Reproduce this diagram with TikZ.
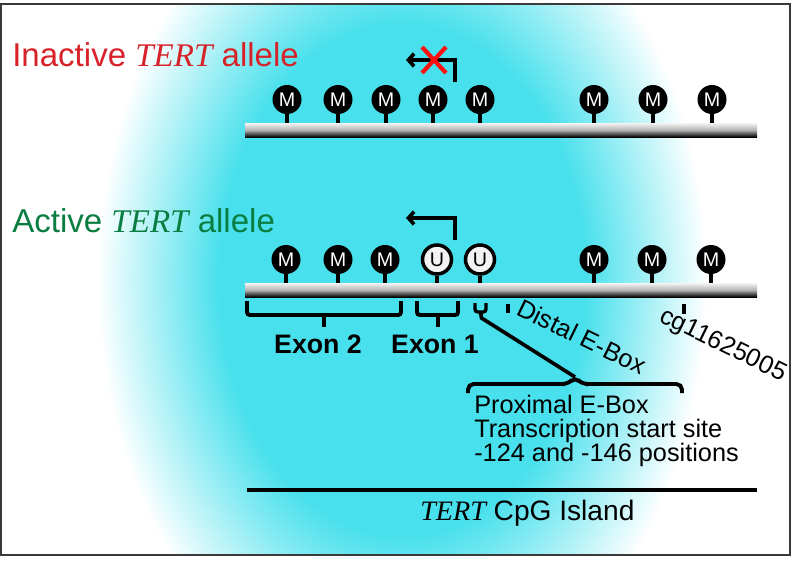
\documentclass[tikz,border=0pt]{standalone}
\usepackage{fontspec}
\setmainfont{Liberation Sans}
\newfontfamily\tertfont{Liberation Serif}
\usetikzlibrary{arrows.meta, positioning}
\definecolor{inactred}{HTML}{D7222A}
\definecolor{actgreen}{HTML}{0A7D41}
\definecolor{bgcyan}{HTML}{48E0EC}
\definecolor{framegray}{HTML}{3A3A3A}
\definecolor{blockred}{HTML}{FF1010}

\pgfdeclareradialshading{glow}{\pgfpoint{0bp}{0bp}}{color(0bp)=(bgcyan); color(15bp)=(bgcyan); color(25bp)=(white); color(50bp)=(white)}

\newdimen\px \px=0.025cm
\newcommand{\tert}{{\tertfont\itshape TERT}}

\begin{document}
\begin{tikzpicture}[
    x = 0.025cm, y = -0.025cm,
    every node/.style = {font=\fontsize{18}{17}\selectfont},
    meth/.style = {circle, fill=black, minimum size=29\px, inner sep=0pt,
                   text=white, font=\fontsize{14}{14}\selectfont},
    unmeth/.style = {circle, fill=gray!10, draw=black, line width=2.5pt,
                     minimum size=29\px, inner sep=0pt, font=\fontsize{14}{14}\selectfont},
    rod/.style = {rectangle, minimum width=512\px, minimum height=14\px, inner sep=0pt,
                  top color=gray!8, bottom color=black, middle color=gray!60},
    stem/.style = {line width=2.6pt},
    bracket/.style = {line width=2.8pt, rounded corners=2pt},
    tss/.style = {-{Straight Barb[length=4pt, width=9pt]}, line width=2.6pt},
    title/.style = {anchor=base west, inner sep=0pt, font=\fontsize{23.5}{23.5}\selectfont},
    exon/.style = {anchor=base, inner sep=0pt, font=\fontsize{19}{19}\selectfont\bfseries},
    slanted/.style = {anchor=base west, inner sep=0pt, rotate=-26}
  ]
    % Backdrop
    \useasboundingbox (0,0) rectangle (800,560);
    \fill[white] (1,4) rectangle (790,555);
    \begin{scope}
      \clip (1,4) rectangle (790,555);
      \shade[shading=glow] (402,280) ellipse [x radius=305, y radius=426];
    \end{scope}
    \draw[framegray, line width=1.5pt] (1,4) rectangle (790,555);

    % Titles
    \node[title, text=inactred] (inacttitle) at (12,66) {Inactive \tert{} allele};
    \node[title, text=actgreen] (acttitle) at (12,232) {Active \tert{} allele};

    % DNA rods
    \node[rod] (rod1) at (501,130) {};
    \node[rod] (rod2) at (501,290) {};

    % Inactive allele CpGs
    \node[meth] (i1) at (287,99.5) {M};
    \node[meth] (i2) at (338,99.5) {M};
    \node[meth] (i3) at (386,99.5) {M};
    \node[meth] (i4) at (433,99.5) {M};
    \node[meth] (i5) at (480,99.5) {M};
    \node[meth] (i6) at (594,99.5) {M};
    \node[meth] (i7) at (653,99.5) {M};
    \node[meth] (i8) at (712,99.5) {M};
    \draw[stem] (i1) -- (i1 |- rod1.north);
    \draw[stem] (i2) -- (i2 |- rod1.north);
    \draw[stem] (i3) -- (i3 |- rod1.north);
    \draw[stem] (i4) -- (i4 |- rod1.north);
    \draw[stem] (i5) -- (i5 |- rod1.north);
    \draw[stem] (i6) -- (i6 |- rod1.north);
    \draw[stem] (i7) -- (i7 |- rod1.north);
    \draw[stem] (i8) -- (i8 |- rod1.north);

    % Active allele CpGs
    \node[meth] (a1) at (286,259.5) {M};
    \node[meth] (a2) at (338,259.5) {M};
    \node[meth] (a3) at (385,259.5) {M};
    \node[unmeth] (a4) at (437,259.5) {U};
    \node[unmeth] (a5) at (480,259.5) {U};
    \node[meth] (a6) at (594,259.5) {M};
    \node[meth] (a7) at (652,259.5) {M};
    \node[meth] (a8) at (711,259.5) {M};
    \draw[stem] (a1) -- (a1 |- rod2.north);
    \draw[stem] (a2) -- (a2 |- rod2.north);
    \draw[stem] (a3) -- (a3 |- rod2.north);
    \draw[stem] (a4) -- (a4 |- rod2.north);
    \draw[stem] (a5) -- (a5 |- rod2.north);
    \draw[stem] (a6) -- (a6 |- rod2.north);
    \draw[stem] (a7) -- (a7 |- rod2.north);
    \draw[stem] (a8) -- (a8 |- rod2.north);

    % Transcription arrows
    \coordinate (tss1) at (455,82);
    \coordinate (tss1end) at (406,60);
    \draw[tss] (tss1) |- (tss1end);
    \draw[blockred, line width=3pt] (422,47) -- (446,73) (422,73) -- (446,47);
    \coordinate (tss2) at (455,240);
    \coordinate (tss2end) at (406,218);
    \draw[tss] (tss2) |- (tss2end);

    % Exons
    \draw[bracket] (247,301) |- (401,315) -- (401,301);
    \coordinate (ex2) at (324,315);
    \draw[bracket] (ex2) -- ++(0,12);
    \node[exon] (exon2) at (318,353) {Exon 2};
    \draw[bracket] (417,301) |- (458,315) -- (458,301);
    \coordinate (ex1) at (438,315);
    \draw[bracket] (ex1) -- ++(0,12);
    \node[exon] (exon1) at (435,353) {Exon 1};

    % Proximal E-box
    \draw[bracket, line width=2.4pt] (475,303) |- (486,312) -- (486,303);
    \coordinate (prox) at (480.5,312);
    \coordinate (bracepeak) at (575,377);
    \draw[stem] (prox) -- ++(1,6) -- (bracepeak);
    \draw[bracket, rounded corners=4pt] (468,393) |- (568,384) -- (bracepeak) -- (582,384) -| (682,393);
    \node[anchor=north west, inner sep=0pt, align=left] (proxlbl) at (474,395)
      {Proximal E-Box\\Transcription start site\\-124 and -146 positions};

    % Distal E-box and probe
    \coordinate (distal) at (508,304);
    \draw[stem] (distal) -- ++(0,9);
    \node[slanted] (distallbl) at (515,314) {Distal E-Box};
    \coordinate (probe) at (684,304);
    \draw[stem] (probe) -- ++(0,10);
    \node[slanted] (probelbl) at (658,321) {cg11625005};

    % CpG island
    \coordinate (cpgL) at (247,490);
    \coordinate (cpgR) at (757,490);
    \draw[line width=3.2pt] (cpgL) -- (cpgR);
    \node[anchor=base west, inner sep=0pt, font=\fontsize{20}{20}\selectfont] (cpglbl) at (420,520) {\tert{} CpG Island};

  \end{tikzpicture}
\end{document}
